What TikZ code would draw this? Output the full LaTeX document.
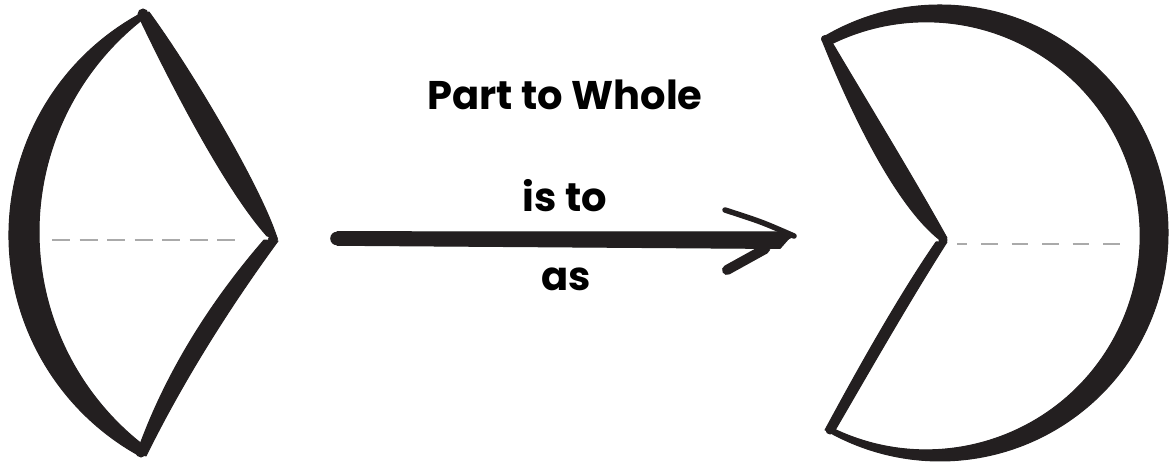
\documentclass[tikz,border=0pt]{standalone}
\usepackage{fontspec}
\newfontfamily\lblfont{Poppins}
\definecolor{ink}{HTML}{231F20}
\definecolor{guide}{HTML}{AAAAAA}
\tikzset{
  brush/.style={fill=ink, draw=ink, line width=1pt, line join=round},
  guideline/.style={draw=guide, line width=1.6pt},
  lbl/.style={font=\lblfont\bfseries\fontsize{40}{42}\selectfont, text=black, inner sep=0pt, anchor=base},
}
\begin{document}
\begin{tikzpicture}[x=1pt, y=-1pt]
\useasboundingbox (0,0) rectangle (1169,462);
% ---------- left sector ----------
\coordinate (Ltop) at (143,14);
\coordinate (Lbot) at (141,452);
\coordinate (Lapex) at (273,239);
% arc (crescent)
\fill[brush] (261,235) ++(241:252) arc[start angle=241, end angle=118.6, radius=252]
  -- (140.2,442.7) arc[start angle=128.7, end angle=231.8, radius=270] -- cycle;
% upper edge
\fill[brush] (138,15) .. controls (168,78) and (224,188) .. (267,236)
  -- (277,238) .. controls (262,190) and (195,75) .. (149,12) -- cycle;
% lower edge
\fill[brush] (278,241) .. controls (226,312) and (181,385) .. (146,456)
  -- (138,450) .. controls (163,380) and (205,308) .. (264,240) -- cycle;
\fill[ink] (Ltop) circle (5.5);
\fill[ink] (Lbot) circle (5.5);
\fill[ink] (Lapex) circle (5);
% guide
\draw[guideline, dash pattern=on 18pt off 9.5pt] (52,240) -- (237,240);
% ---------- right pac-shape ----------
\coordinate (Rtop) at (825,39);
\coordinate (Rbot) at (830,430);
\coordinate (Rapex) at (943,240);
\fill[brush] (940,233) ++(-121.2:228) arc[start angle=-121.2, end angle=119.4, radius=228]
  -- (832,428) arc[start angle=116.1, end angle=-116.7, radius=214] -- cycle;
% upper edge
\fill[brush] (822,40) .. controls (850,110) and (895,205) .. (940,240)
  -- (947,238) .. controls (915,180) and (860,90) .. (830,39) -- cycle;
% lower edge
\fill[brush] (947,242) .. controls (910,300) and (870,370) .. (834,432)
  -- (825,430) .. controls (852,380) and (896,300) .. (936,242) -- cycle;
\fill[ink] (Rapex) circle (4.5);
\fill[ink] (Rtop) circle (4);
\fill[ink] (Rbot) circle (4.5);
% guide
\draw[guideline, dash pattern=on 16.5pt off 14pt, dash phase=6.5pt] (957,244) -- (1128,244);
% ---------- arrow ----------
\coordinate (A0) at (337,238.5);
\coordinate (Atip) at (794,236);
\fill[ink] (A0) circle (6.8);
\fill[brush] (337,231.7) -- (780,232) -- (791,236) -- (780,248.5) -- (337,245.3) -- cycle;
\draw[ink, line width=5.5pt, line cap=round] (725,210) .. controls (762,222) .. (Atip);
\fill[brush] (Atip) -- (760,254) -- (726,268) -- (767,245) -- (789,233) -- cycle;
\draw[ink, line width=10pt, line cap=round] (727,270) -- (765,249);
% ---------- labels ----------
\node[lbl] (title) at (565,110) {Part to Whole};
\node[lbl] (isto) at (565,212) {is to};
\node[lbl] (as) at (566,290) {as};
\end{tikzpicture}
\end{document}
